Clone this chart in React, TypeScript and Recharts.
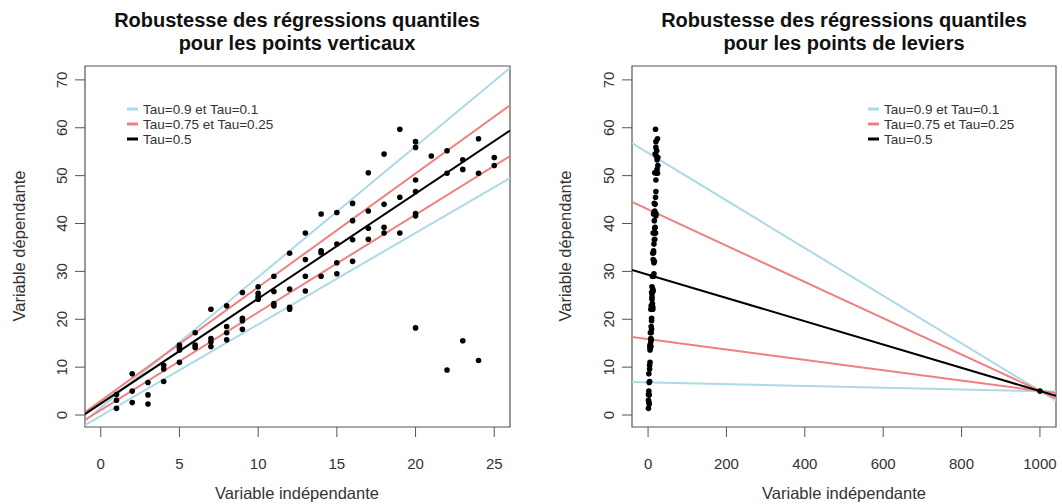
import React from "react";
import {
  ScatterChart,
  Scatter,
  XAxis,
  YAxis,
  ReferenceArea,
} from "recharts";

const FONT = '"Liberation Sans", Arial, sans-serif';
const BLUE = "#add8e6";
const RED = "#f08080";
const BLACK = "#000000";
const AXIS = "#555555";

const pointsX = [
  1, 1, 1, 2, 2, 2, 3, 3, 3, 4, 4, 4, 5, 5, 5, 5, 6, 6, 6, 7, 7, 7, 7, 8, 8, 8, 8,
  9, 9, 9, 9, 10, 10, 10, 10, 11, 11, 11, 11, 12, 12, 12, 12, 13, 13, 13, 13,
  14, 14, 14, 14, 15, 15, 15, 15, 16, 16, 16, 16, 17, 17, 17, 17, 18, 18, 18, 18,
  19, 19, 19, 20, 20, 20, 20, 20, 20, 21, 22, 22, 23, 23, 24, 24, 25, 25,
];
const pointsY = [
  4.3, 3.1, 1.4, 8.6, 5.0, 2.6, 6.8, 4.2, 2.3, 10.4, 9.6, 7.0, 14.6, 14.1, 13.6, 11.0,
  17.2, 14.6, 14.1, 22.1, 16.0, 15.3, 14.3, 22.8, 18.5, 17.2, 15.7,
  25.6, 20.2, 19.7, 17.9, 26.8, 25.4, 24.7, 24.2, 29.0, 25.8, 23.3, 22.8,
  33.8, 26.3, 22.5, 22.1, 38.0, 32.5, 29.0, 25.9, 42.0, 34.3, 33.9, 29.0,
  42.3, 35.7, 31.8, 29.5, 44.2, 40.6, 36.6, 32.1, 50.6, 42.6, 39.0, 36.7,
  54.5, 44.0, 39.2, 38.0, 59.7, 45.5, 38.0, 57.1, 55.9, 49.1, 46.7, 42.1, 41.6,
  54.1, 55.2, 50.5, 53.3, 51.3, 57.7, 50.5, 53.8, 52.1,
];
// vertical outliers, only in the left panel
const outliersX = [20, 22, 23, 24];
const outliersY = [18.2, 9.4, 15.5, 11.4];
// leverage point, only in the right panel
const leveragePoint = { x: 1000, y: 5 };

// fitted quantile lines, value at left and right edge of each panel
const leftEdges = [-1, 26];
const leftTau90 = [-1.2, 72.5];
const leftTau75 = [0.6, 64.7];
const leftTau50 = [0.2, 59.4];
const leftTau25 = [-1.0, 54.1];
const leftTau10 = [-2.1, 49.5];

const rightEdges = [-41, 1041];
const rightTau90 = [56.8, 3.0];
const rightTau75 = [44.5, 3.5];
const rightTau50 = [30.3, 4.0];
const rightTau25 = [16.3, 4.6];
const rightTau10 = [6.9, 4.9];

const leftTicks = [0, 5, 10, 15, 20, 25];
const rightTicks = [0, 200, 400, 600, 800, 1000];
const yTicks = [0, 10, 20, 30, 40, 50, 60, 70];
const yDomain = [-2.5, 72.9];

const legendItems = [
  { label: "Tau=0.9 et Tau=0.1", color: BLUE },
  { label: "Tau=0.75 et Tau=0.25", color: RED },
  { label: "Tau=0.5", color: BLACK },
];

const basePoints = pointsX.map((x, i) => ({ x, y: pointsY[i] }));
const outlierPoints = outliersX.map((x, i) => ({ x, y: outliersY[i] }));
const toLine = (xs: number[], ys: number[]) => xs.map((x, i) => ({ x, y: ys[i] }));

const XTick = ({ x, y, payload }: any) => (
  <text x={x} y={y} dy="0.71em" textAnchor="middle" fontSize={15} fill="#333" fontFamily={FONT}>
    {payload.value}
  </text>
);

const YTick = ({ x, y, payload }: any) => (
  <text
    x={x}
    y={y}
    transform={`rotate(-90 ${x} ${y})`}
    textAnchor="middle"
    fontSize={15}
    fill="#333"
    fontFamily={FONT}
  >
    {payload.value}
  </text>
);

// legend drawn in the overlay, top-left corner given in page pixels
const LegendBox = ({ x, y }: { x: number; y: number }) => (
  <g>
    {legendItems.map((it, i) => (
      <g key={it.label}>
        <line x1={x} x2={x + 11} y1={y + 6 + i * 15} y2={y + 6 + i * 15} stroke={it.color} strokeWidth={3} />
        <text x={x + 16} y={y + 10.5 + i * 15} fontSize={13.5} fill="#333" fontFamily={FONT}>
          {it.label}
        </text>
      </g>
    ))}
  </g>
);

function Panel({
  left,
  margin,
  xDomain,
  xTicks,
  edges,
  lines,
  points,
}: {
  left: number;
  margin: { top: number; right: number; bottom: number; left: number };
  xDomain: number[];
  xTicks: number[];
  edges: number[];
  lines: { ys: number[]; color: string }[];
  points: { x: number; y: number }[];
}) {
  return (
    <div style={{ position: "absolute", left, top: 0 }}>
      <ScatterChart width={531} height={504} margin={margin}>
        <XAxis
          type="number"
          dataKey="x"
          domain={xDomain}
          ticks={xTicks}
          allowDataOverflow
          axisLine={false}
          tickLine={{ stroke: AXIS }}
          tickSize={10}
          tickMargin={21}
          height={40}
          tick={<XTick />}
        />
        <YAxis
          type="number"
          dataKey="y"
          domain={yDomain}
          ticks={yTicks}
          allowDataOverflow
          axisLine={false}
          tickLine={{ stroke: AXIS }}
          tickSize={10}
          tickMargin={8}
          width={40}
          tick={<YTick />}
        />
        <ReferenceArea
          x1={xDomain[0]}
          x2={xDomain[1]}
          y1={yDomain[0]}
          y2={yDomain[1]}
          fill="none"
          stroke={AXIS}
          strokeWidth={1.2}
          ifOverflow="visible"
        />
        {lines.map((l, i) => (
          <Scatter
            key={i}
            data={toLine(edges, l.ys)}
            line={{ stroke: l.color, strokeWidth: 2 }}
            shape={() => <g />}
            legendType="none"
            isAnimationActive={false}
          />
        ))}
        <Scatter
          data={points}
          fill="#000"
          shape={(p: any) => <circle cx={p.cx} cy={p.cy} r={2.8} fill="#000" />}
          legendType="none"
          isAnimationActive={false}
        />
      </ScatterChart>
    </div>
  );
}

export default function App() {
  const titleStyle = { fontSize: 20, fontWeight: 700, fill: "#111", fontFamily: FONT } as const;
  const axisTitle = { fontSize: 16.5, fill: "#333", fontFamily: FONT } as const;
  return (
    <div style={{ position: "absolute", left: 0, top: 0, width: 1062, height: 504, background: "#fff" }}>
      <Panel
        left={0}
        margin={{ top: 66, right: 21, bottom: 37, left: 45 }}
        xDomain={[-1, 26]}
        xTicks={leftTicks}
        edges={leftEdges}
        lines={[
          { ys: leftTau90, color: BLUE },
          { ys: leftTau10, color: BLUE },
          { ys: leftTau75, color: RED },
          { ys: leftTau25, color: RED },
          { ys: leftTau50, color: BLACK },
        ]}
        points={[...basePoints, ...outlierPoints]}
      />
      <Panel
        left={531}
        margin={{ top: 66, right: 6, bottom: 37, left: 61 }}
        xDomain={[-41, 1041]}
        xTicks={rightTicks}
        edges={rightEdges}
        lines={[
          { ys: rightTau90, color: BLUE },
          { ys: rightTau10, color: BLUE },
          { ys: rightTau75, color: RED },
          { ys: rightTau25, color: RED },
          { ys: rightTau50, color: BLACK },
        ]}
        points={[...basePoints, leveragePoint]}
      />
      <svg width={1062} height={504} style={{ position: "absolute", left: 0, top: 0, pointerEvents: "none" }}>
        <LegendBox x={127} y={103} />
        <LegendBox x={868} y={103} />
        <text x={297} y={27} textAnchor="middle" {...titleStyle}>Robustesse des régressions quantiles</text>
        <text x={297} y={50} textAnchor="middle" {...titleStyle}>pour les points verticaux</text>
        <text x={844} y={27} textAnchor="middle" {...titleStyle}>Robustesse des régressions quantiles</text>
        <text x={844} y={50} textAnchor="middle" {...titleStyle}>pour les points de leviers</text>
        <text x={297} y={499} textAnchor="middle" {...axisTitle}>Variable indépendante</text>
        <text x={844} y={499} textAnchor="middle" {...axisTitle}>Variable indépendante</text>
        <text x={25} y={246} textAnchor="middle" transform="rotate(-90 25 246)" {...axisTitle}>Variable dépendante</text>
        <text x={571} y={246} textAnchor="middle" transform="rotate(-90 571 246)" {...axisTitle}>Variable dépendante</text>
      </svg>
    </div>
  );
}
